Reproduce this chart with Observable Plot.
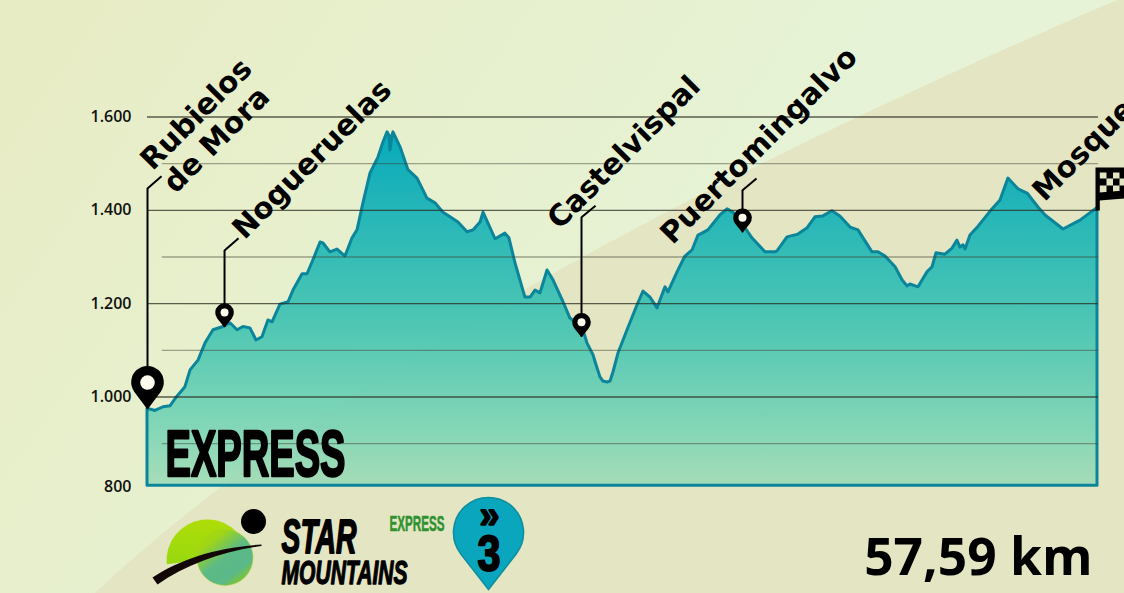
<!DOCTYPE html>
<html><head><meta charset="utf-8">
<script src="https://cdn.jsdelivr.net/npm/d3@7"></script>
<script src="https://cdn.jsdelivr.net/npm/@observablehq/plot@0.6"></script>
<style>
html,body{margin:0;padding:0;overflow:hidden;width:1124px;height:593px}
#page{position:relative;width:1124px;height:593px;overflow:hidden;background:linear-gradient(125deg,#e8ecc4 0%,#e6f3d6 60%)}
#hill{position:absolute;inset:0;background:#e3e5c3;clip-path:path("M95 593 C 300 400, 650 200, 1124 -3 L1124 593 Z")}
#chart{position:absolute;inset:0}
svg{display:block;background:transparent!important}
</style></head><body>
<div id="page"><div id="hill"></div><div id="chart"></div></div>
<script>
// Profile
const km = [0,.48,.97,1.39,1.8,2.3,2.61,3.09,3.52,4.0,4.61,5.03,5.46,5.82,6.24,6.61,6.97,7.33,7.58,8.06,8.55,8.85,9.4,9.7,10.06,10.49,10.67,11.09,11.52,12.0,12.43,12.73,13.09,13.52,14.0,14.31,14.55,14.67,14.73,14.85,14.91,15.34,15.82,16.37,16.97,17.46,17.94,18.37,18.85,19.4,19.76,20.19,20.37,21.1,21.7,21.94,22.31,22.91,23.22,23.52,23.82,24.25,24.61,25.22,25.64,26.37,26.67,27.04,27.22,27.46,27.64,27.89,28.07,28.25,28.55,29.1,29.7,30.07,30.49,30.92,31.4,31.58,32.13,32.61,33.04,33.4,33.64,34.0,34.73,35.16,35.52,36.13,36.67,37.46,38.07,38.19,38.8,39.46,40.0,40.49,40.97,41.52,42.0,42.62,43.1,43.95,44.31,44.74,45.35,45.77,46.07,46.25,46.74,47.28,47.59,47.83,48.37,48.8,49.1,49.28,49.47,49.59,49.89,50.38,51.22,51.71,52.19,52.8,53.35,54.01,54.44,55.53,56.56,57.47,57.59];
const elev = [975,970,978,980,1000,1021,1057,1078,1115,1143,1150,1158,1143,1150,1147,1121,1128,1164,1160,1198,1203,1228,1263,1263,1293,1331,1329,1310,1316,1301,1340,1357,1415,1479,1513,1546,1567,1560,1528,1560,1567,1535,1486,1468,1425,1415,1395,1385,1374,1353,1357,1374,1395,1338,1350,1340,1286,1213,1213,1228,1222,1271,1250,1203,1168,1149,1115,1089,1068,1042,1033,1031,1033,1053,1093,1143,1196,1226,1213,1190,1235,1224,1267,1301,1314,1346,1350,1357,1389,1402,1395,1368,1340,1310,1310,1312,1342,1348,1361,1385,1387,1398,1387,1363,1357,1310,1310,1301,1278,1250,1237,1241,1235,1267,1278,1308,1305,1318,1335,1320,1325,1316,1346,1365,1402,1421,1468,1445,1436,1406,1389,1359,1378,1402,1404];
const tickValues = [800,1000,1200,1400,1600];
const tickLabels = ["800","1.000","1.200","1.400","1.600"];
const minorTicks = [900,1100,1300,1500];
const stopNames = ["Rubielos\nde Mora","Nogueruelas","Castelvispal","Puertomingalvo","Mosqueruela"];
const stopKm = [0,4.67,26.31,36.07,52.9];
const stopElev = [973,1149,1128,1352,1400];
const leaderTop = [1447,1314,1385,1443];
const leaderEndKm = [.85,5.52,27.16,36.92];
const leaderEndElev = [1473,1340,1410,1468];
const baseElev = 810;
const totalKm = "57,59 km";

// Layout
const labelAt = [[175,194],[244,240],[559,230],[672,245],[1044,202]];
const labelFont = {fontFamily:"DejaVu Sans",fontWeight:700,fontSize:29.5,rotate:-45,textAnchor:"start",lineAnchor:"bottom",fill:"#000"};
const condensed = {fontFamily:"Liberation Sans",fontWeight:700,textAnchor:"start",lineAnchor:"bottom",frameAnchor:"top-left"};

function fit(len){return (i,s,v,d,c,next)=>{const g=next(i,s,v,d,c);
  g.querySelectorAll("text").forEach(t=>{t.setAttribute("textLength",len);t.setAttribute("lengthAdjust","spacingAndGlyphs")});return g;}}
const pin = k => ({draw(ctx,size){const r=Math.sqrt(size/Math.PI),d=k*r,a=Math.acos(1/k);
  ctx.moveTo(0,0);ctx.arc(0,-d,r,Math.PI/2-a,Math.PI/2+a,true);ctx.closePath();}});
const capped = (a0,a1)=>({draw(ctx,size){const r=Math.sqrt(size/Math.PI);ctx.arc(0,0,r,a0,a1);ctx.closePath();}});
const swoosh = {draw(ctx){ctx.moveTo(-54,14);ctx.bezierCurveTo(-25,-5,10,-16,55,-19);ctx.lineTo(55,-17.5);ctx.bezierCurveTo(15,-12,-20,1,-49,21);ctx.closePath();}};
const flag = {draw(ctx){const R=(x0,y0,x1,y1,s=0)=>{ctx.moveTo(x0,y0);ctx.lineTo(x1,y0+s);ctx.lineTo(x1,y1+s);ctx.lineTo(x0,y1);ctx.closePath();};
  R(-2,-41,2.3,2);R(2,-41,28,-36);
  R(9,-36,15.5,-30);R(22,-36,28,-30);R(2,-30,9,-23);R(15.5,-30,22,-23);R(9,-23,15.5,-16);R(22,-23,28,-16);
  R(2,-16,28,-8,-2);}};
const at = (dx,dy)=>({frameAnchor:"top-left",dx,dy});
const defs = () => {const D=d3.create("svg:defs");
  const add=(id,x2,y2,stops)=>{const g=D.append("linearGradient").attr("id",id).attr("x1",0).attr("y1",0).attr("x2",x2).attr("y2",y2);
    stops.forEach(([o,c,a])=>g.append("stop").attr("offset",o).attr("stop-color",c).attr("stop-opacity",a));};
  add("areaFill",0,1,[[0,"#07aabb",1],[.55,"#4cc6b3",.98],[.85,"#7ad5b5",.9],[1,"#96d9b4",.8]]);
  add("lime",0,1,[[0,"#aedd08",1],[1,"#98d80f",1]]);
  add("lens",.8,1,[[0,"#a6da0c",1],[.25,"#a0d614",1],[.55,"#5cba86",1],[.8,"#5ab88a",1],[1,"#8acb14",1]]);
  return D.node();};

const profile = km.map((k,i)=>({k,e:elev[i]}));
const stops = stopNames.slice(0,4).map((n,i)=>({k:stopKm[i],e:stopElev[i],top:leaderTop[i],xe:leaderEndKm[i],ye:leaderEndElev[i],big:i===0}));

const chart = Plot.plot({
  width:1124,height:593,margin:0,
  style:{background:"transparent",overflow:"hidden"},
  x:{domain:[0,57.59],range:[147,1097],axis:null},
  y:{domain:[800,1600],range:[489.8,116.5],axis:null},
  marks:[
    defs,
    Plot.areaY(profile,{x:"k",y1:baseElev,y2:"e",fill:"url(#areaFill)",stroke:"#0a859a",strokeWidth:3,strokeLinejoin:"round"}),
    Plot.ruleY(minorTicks,{x1:.9,x2:57.65,stroke:"#3d3d2e",strokeOpacity:.45,strokeWidth:1.3}),
    Plot.ruleY(tickValues.slice(1),{x1:0,x2:57.65,stroke:"#2c2c22",strokeOpacity:.75,strokeWidth:1.3}),
    Plot.text(tickLabels.slice(1),{text:d=>d,y:(d,i)=>tickValues[i+1],frameAnchor:"left",dx:131,textAnchor:"end",fontFamily:"Open Sans",fontWeight:600,fontSize:16,fill:"#111"}),
    Plot.text(tickLabels.slice(0,1),{text:d=>d,y:()=>tickValues[0],frameAnchor:"left",dx:131,dy:-3,textAnchor:"end",fontFamily:"Open Sans",fontWeight:600,fontSize:16,fill:"#111"}),
    // leaders
    Plot.ruleX(stops,{x:"k",y1:"e",y2:"top",stroke:"#000",strokeWidth:2}),
    Plot.link(stops,{x1:"k",y1:"top",x2:"xe",y2:"ye",stroke:"#000",strokeWidth:2,markerEnd:null}),
    // pins
    Plot.dot(stops.filter(d=>!d.big),{x:"k",y:"e",r:9.3,symbol:pin(1.6),fill:"#000"}),
    Plot.dot(stops.filter(d=>!d.big),{x:"k",y:"e",r:4,dy:-15,fill:"#fffdf0"}),
    Plot.dot(stops.filter(d=>d.big),{x:"k",y:"e",r:16.3,symbol:pin(1.68),fill:"#000"}),
    Plot.dot(stops.filter(d=>d.big),{x:"k",y:"e",r:7.3,dy:-27,fill:"#fffdf0"}),
    // labels
    ...stopNames.map((n,i)=>Plot.text([n],{text:d=>d,...labelFont,...at(labelAt[i][0],labelAt[i][1]),lineHeight:1.1})),
    // finish flag
    Plot.dot([0],{x:()=>57.59,y:()=>1404,r:10,symbol:flag,fill:"#000"}),
    // course title
    Plot.text(["EXPRESS"],{text:d=>d,...condensed,...at(165,475),fontSize:64,fill:"#000",stroke:"#000",strokeWidth:2.4,render:fit(180)}),
    // logo
    Plot.dot([0],{...at(207,560),r:41,symbol:capped(Math.PI*.97,Math.PI*1.95),fill:"url(#lime)"}),
    Plot.dot([0],{...at(224.5,557),r:28,fill:"url(#lens)",stroke:"#a8cf20",strokeWidth:.5}),
    Plot.dot([0],{...at(206,563),r:10,symbol:swoosh,fill:"#120606"}),
    Plot.dot([0],{...at(253,521),r:12.5,fill:"#000"}),
    Plot.text(["STAR"],{text:d=>d,...condensed,...at(281,552),fontSize:48,fontStyle:"italic",fill:"#000",stroke:"#000",strokeWidth:1.8,render:fit(75)}),
    Plot.text(["MOUNTAINS"],{text:d=>d,...condensed,...at(281,583),fontSize:34,fontStyle:"italic",fill:"#000",stroke:"#000",strokeWidth:1.3,render:fit(126)}),
    Plot.text(["EXPRESS"],{text:d=>d,...condensed,...at(389,530),fontSize:22,fill:"#2f9130",stroke:"#2f9130",strokeWidth:.5,render:fit(55)}),
    // stage badge
    Plot.dot([0],{...at(488,589),r:35,symbol:pin(1.63),fill:"#0aa6bd",stroke:"#0f8ea0",strokeWidth:1.6}),
    Plot.text(["»"],{text:d=>d,...condensed,...at(479,527),fontSize:38,fill:"#000",stroke:"#000",strokeWidth:1.6,render:fit(20)}),
    Plot.text(["3"],{text:d=>d,...condensed,...at(477,570),fontSize:50,fill:"#000",stroke:"#000",strokeWidth:2,render:fit(23)}),
    // distance
    Plot.text([totalKm],{text:d=>d,frameAnchor:"top-left",dx:1092,dy:574,textAnchor:"end",lineAnchor:"bottom",fontFamily:"Open Sans",fontWeight:700,fontSize:51.5,fill:"#000"})
  ]
});
document.getElementById("chart").append(chart);
</script>
</body></html>
